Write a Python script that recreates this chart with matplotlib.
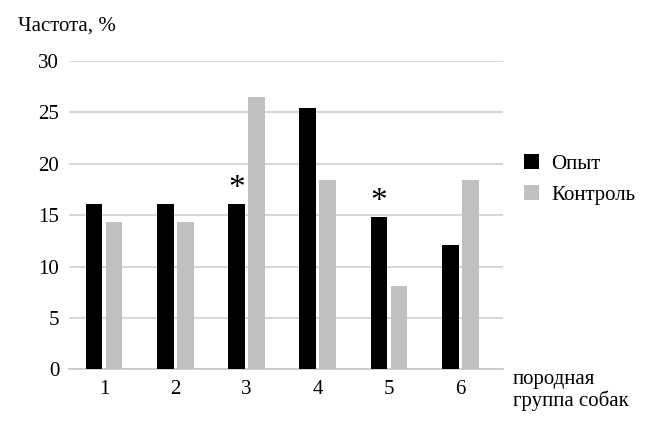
import numpy as np
import matplotlib.pyplot as plt

# данные
groups = ['1', '2', '3', '4', '5', '6']
opyt = [16.1, 16.1, 16.1, 25.4, 14.8, 12.1]
kontrol = [14.3, 14.3, 26.5, 18.4, 8.1, 18.4]
marked = [2, 4]  # группы со звёздочкой (индексы)

plt.rcParams['font.family'] = 'serif'
plt.rcParams['font.serif'] = ['Liberation Serif', 'DejaVu Serif']
plt.rcParams['font.size'] = 15

fig = plt.figure(figsize=(6.54, 4.28), dpi=100)
ax = fig.add_axes([0.1055, 0.137, 0.6635, 0.7205])

x = np.arange(len(groups))
w = 0.235
b1 = ax.bar(x - 0.14, opyt, width=w, color='black', label='Опыт', zorder=3)
b2 = ax.bar(x + 0.14, kontrol, width=w, color='#bfbfbf', label='Контроль', zorder=3)

# звёздочки над значимыми различиями
for i in marked:
    ax.annotate('*', xy=(x[i] - 0.14, opyt[i]), xytext=(0, 0),
                textcoords='offset points', ha='center', va='bottom', fontsize=24)

ax.set_ylim(0, 30)
ax.set_xlim(-0.49, 5.6)
ax.set_yticks(range(0, 31, 5))
ax.set_xticks(x)
ax.set_xticklabels(groups)
ax.yaxis.grid(True, color='#d0d0d0', linewidth=1.2, zorder=0)
ax.set_axisbelow(True)
for s in ['top', 'right', 'left']:
    ax.spines[s].set_visible(False)
ax.spines['bottom'].set_color('#c8c8c8')
ax.spines['bottom'].set_linewidth(1.2)
ax.tick_params(axis='both', length=0)
ax.tick_params(axis='y', pad=7)
ax.tick_params(axis='x', pad=8)

fig.text(0.027, 0.94, 'Частота, %', ha='left', va='center')
fig.text(0.784, 0.087, 'породная\nгруппа собак', ha='left', va='center',
         linespacing=1.1)

fig.legend(handles=[b1, b2], loc='center left', bbox_to_anchor=(0.773, 0.58),
           frameon=False, handlelength=0.7, handleheight=0.7, handletextpad=0.6,
           labelspacing=0.55)

fig.savefig('out.png', dpi=100)
